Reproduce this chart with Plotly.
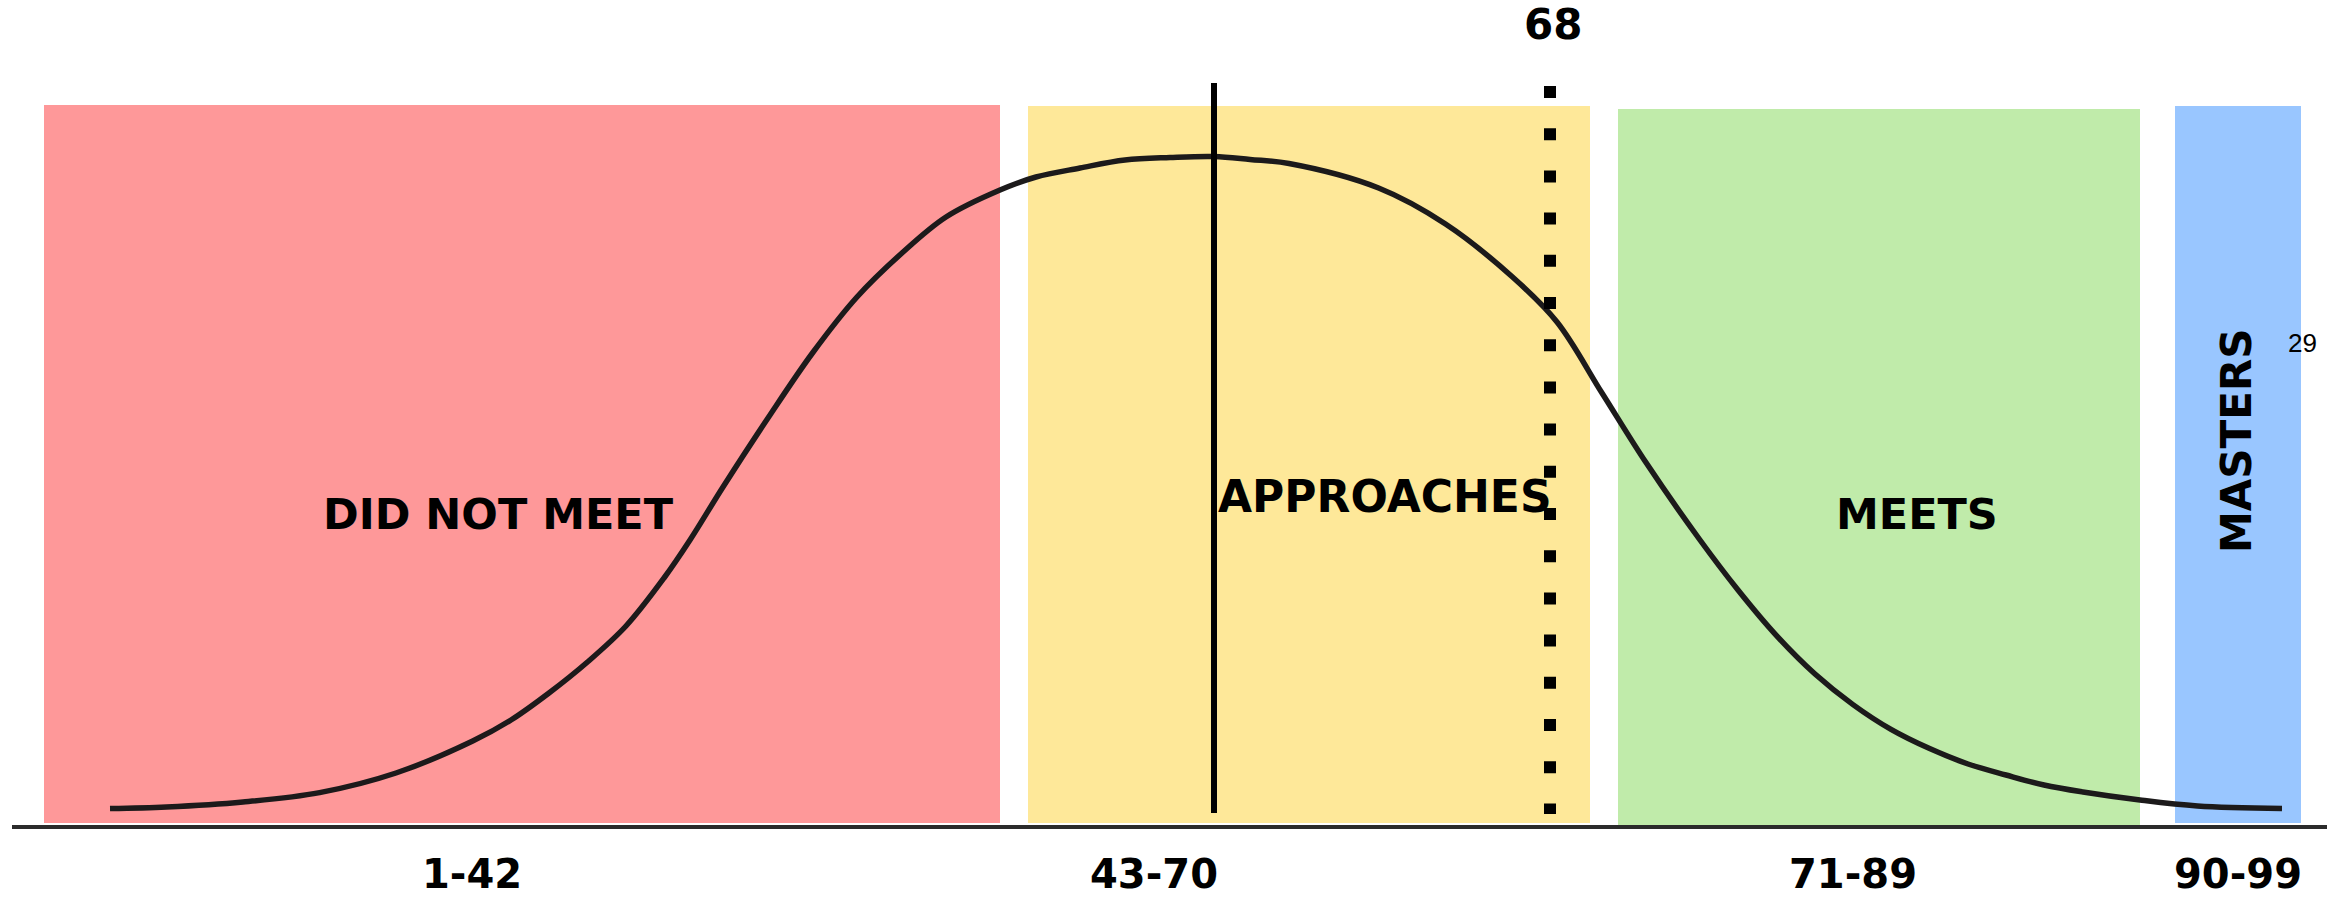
import plotly.graph_objs as go

# performance bands (schematic position units, 1 unit = 10 px of the drawing)
band_names = ['DID NOT MEET', 'APPROACHES', 'MEETS', 'MASTERS']
band_ranges = ['1-42', '43-70', '71-89', '90-99']
band_left = [4.4, 102.8, 161.8, 217.5]
band_right = [100.0, 159.0, 214.0, 230.1]
band_bottom = [0.4, 0.4, 0.2, 0.4]
band_top = [72.2, 72.1, 71.8, 72.1]
band_colors = ['#FE9899', '#FEE899', '#C0EBAA', '#99C6FF']

# tick positions for the score ranges
range_pos = [47.2, 115.4, 185.3, 223.8]

# bell curve
curve_x = [11.0, 16.65, 24.3, 31.96, 39.6, 47.27, 51.1, 54.9, 58.75, 62.6,
           66.4, 69.0, 72.3, 76.8, 81.25, 85.7, 90.2, 94.6, 100.0, 103.6,
           108.0, 112.5, 117.0, 121.4, 125.0, 128.9, 137.86, 144.55, 151.25,
           155.7, 160.2, 164.6, 170.0, 173.8, 177.65, 181.5, 185.3, 189.1,
           192.96, 196.8, 200.6, 204.4, 208.3, 214.0, 219.75, 228.2]
curve_y = [1.84, 2.0, 2.5, 3.44, 5.4, 8.6, 10.7, 13.4, 16.5, 20.1,
           24.9, 28.7, 34.0, 40.9, 47.4, 53.0, 57.4, 61.0, 63.7, 65.0,
           65.9, 66.7, 66.95, 67.05, 66.75, 66.35, 63.9, 60.3, 55.0,
           50.5, 43.4, 36.44, 28.7, 23.7, 19.14, 15.3, 12.24, 9.76,
           7.84, 6.3, 5.2, 4.2, 3.5, 2.7, 2.1, 1.84]

# average marker (solid) and the score 68 marker (dotted)
mean_x = 121.4
mean_y = [74.4, 1.4]
score_label = '68'
score_x = 155.0
score_y = [74.1, 1.3]

# label positions
label_x = [49.8, 138.5, 191.7, 223.6]
label_y = [31.3, 33.1, 31.3, 38.6]
label_angle = [0, 0, 0, -90]
label_size = [43, 44, 43, 42]

fig = go.Figure()

# coloured bands
fig.add_trace(go.Bar(
    x=[(l + r) / 2 for l, r in zip(band_left, band_right)],
    y=[t - b for t, b in zip(band_top, band_bottom)],
    base=band_bottom,
    width=[r - l for l, r in zip(band_left, band_right)],
    marker=dict(color=band_colors, line=dict(width=0)),
    hoverinfo='skip',
    showlegend=False,
))

# bell curve
fig.add_trace(go.Scatter(
    x=curve_x, y=curve_y, mode='lines',
    line=dict(color='#1c1a1b', width=5.5, shape='spline', smoothing=1.0),
    hoverinfo='skip', showlegend=False,
))

# solid line
fig.add_trace(go.Scatter(
    x=[mean_x, mean_x], y=mean_y, mode='lines',
    line=dict(color='#000000', width=6),
    hoverinfo='skip', showlegend=False,
))

# dotted line at 68
fig.add_trace(go.Scatter(
    x=[score_x, score_x], y=score_y, mode='lines',
    line=dict(color='#000000', width=12, dash='12px,30.2px'),
    hoverinfo='skip', showlegend=False,
))

annotations = []
for name, x, y, a, s in zip(band_names, label_x, label_y, label_angle, label_size):
    annotations.append(dict(
        x=x, y=y, xref='x', yref='y', text='<b>' + name + '</b>',
        showarrow=False, textangle=a,
        font=dict(family='DejaVu Sans', size=s, color='#000000'),
    ))

annotations.append(dict(
    x=score_x + 0.3, y=80.3, xref='x', yref='y', text='<b>' + score_label + '</b>',
    showarrow=False, font=dict(family='DejaVu Sans', size=42, color='#000000'),
))

# small stray number next to the masters band
annotations.append(dict(
    x=230.2, y=48.4, xref='x', yref='y', text='29',
    showarrow=False, font=dict(family='Liberation Sans', size=26, color='#000000'),
))

fig.update_layout(
    width=2341,
    height=899,
    autosize=False,
    margin=dict(l=12, r=14, t=0, b=74),
    paper_bgcolor='white',
    plot_bgcolor='white',
    barmode='overlay',
    annotations=annotations,
    xaxis=dict(
        range=[1.2, 232.7],
        automargin=False,
        showgrid=False, zeroline=False,
        showline=True, linewidth=4, linecolor='#2b2b2b',
        tickmode='array', tickvals=range_pos,
        ticktext=['<b>' + t + '</b>' for t in band_ranges],
        ticks='', ticklabelstandoff=11,
        tickfont=dict(family='DejaVu Sans', size=40, color='#000000'),
    ),
    yaxis=dict(
        range=[0.2, 82.7],
        automargin=False,
        showgrid=False, zeroline=False, showline=False,
        showticklabels=False,
    ),
)

# drop the page's default body margin so the figure fills the window
fig.write_html("out.html", config=dict(displayModeBar=False),
               post_script="document.body.style.margin='0';")
